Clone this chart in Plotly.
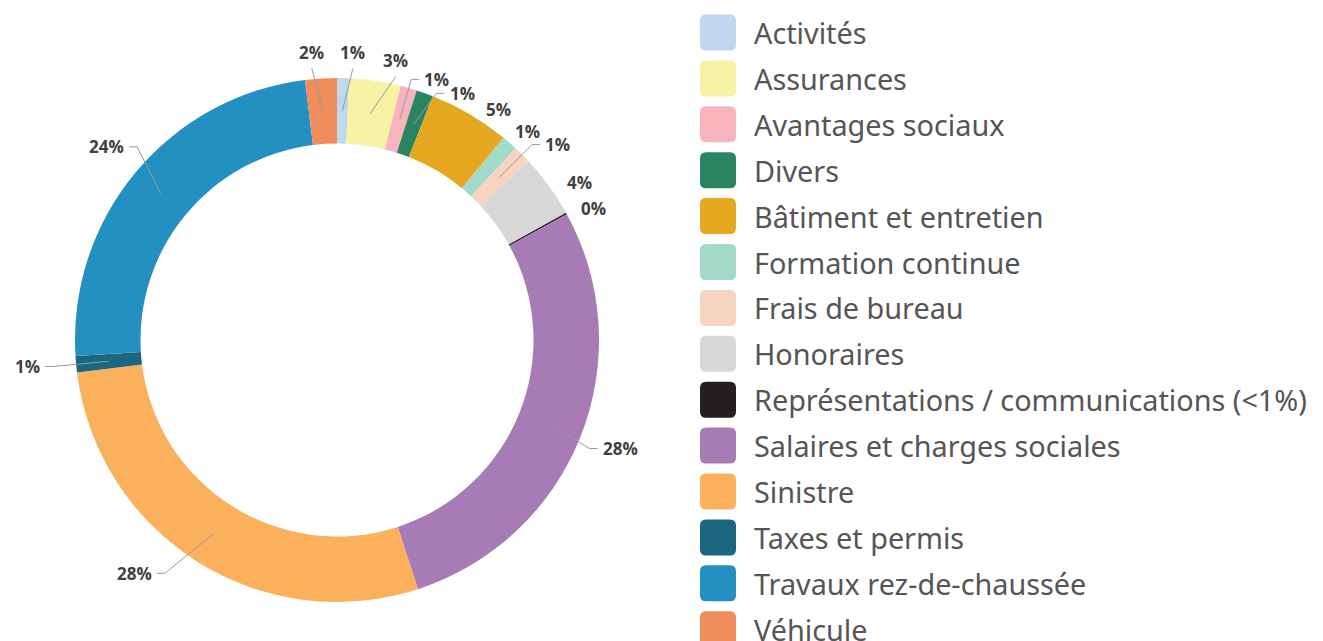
import math
import plotly.graph_objects as go

categories = ["Activités", "Assurances", "Avantages sociaux", "Divers",
              "Bâtiment et entretien", "Formation continue", "Frais de bureau",
              "Honoraires", "Représentations / communications (<1%)",
              "Salaires et charges sociales", "Sinistre", "Taxes et permis",
              "Travaux rez-de-chaussée", "Véhicule"]
values = [0.75, 3.16, 1.01, 1.04, 5.01, 0.97, 1.09, 3.90, 0.10, 27.97, 28.02, 1.00, 24.03, 1.95]
colors = ["#c0d8ef", "#f8f2a5", "#f8b4bc", "#2a8462", "#e6a821", "#a2d9c9", "#f6d4c0",
          "#d9d8d6", "#231f20", "#a67bb6", "#fbb05c", "#1b6680", "#2490c2", "#ef8d5d"]

# label layout tweaks (positions/styles only)
label_angle_adj = [2.0, 4.2, 0.0, 2.4, 0.0, -3.0, 0.0, 0.0, -0.8, 1.6, 4.0, 0.0, 4.3, -1.8]
label_radius = [272, 270, 271, 266, 268, 266, 276, 268, 266, 275, 290, 285, 278, 273]
show_leader = [True, True, True, True, False, False, True, False, False, True, True, True, True, True]

W, H = 1323, 641
OFF = 8  # page body margin: axis ranges map directly to page pixels
CX, CY, R = 337, 340, 262
HOLE = 0.75
R_MID = R * (1 + HOLE) / 2

fig = go.Figure()
fig.add_trace(go.Pie(
    labels=categories, values=values, sort=False, direction="clockwise", rotation=0,
    hole=HOLE, marker=dict(colors=colors, line=dict(width=0)),
    textinfo="none", hoverinfo="label+percent", showlegend=False,
    domain=dict(x=[(CX - OFF - R) / W, (CX - OFF + R) / W],
                y=[(H - (CY - OFF) - R) / H, (H - (CY - OFF) + R) / H]),
))

shapes = []
annotations = []
total = sum(values)
cum = 0.0
for i, v in enumerate(values):
    mid = (cum + v / 2) / total * 360.0
    cum += v
    pct = f"{round(v / total * 100)}%"
    a0 = math.radians(mid)
    sx, sy = CX + R_MID * math.sin(a0), CY - R_MID * math.cos(a0)
    ang = mid + label_angle_adj[i]
    a1 = math.radians(ang)
    ex, ey = CX + label_radius[i] * math.sin(a1), CY - label_radius[i] * math.cos(a1)
    signed = ((ang + 180) % 360) - 180
    font = dict(family="Open Sans", size=17, color="#404040", weight="bold")
    if abs(signed) < 14:
        if show_leader[i]:
            shapes.append(dict(type="path", xref="x", yref="y",
                               path=f"M{sx},{sy} L{ex},{ey}",
                               line=dict(color="#9a9a9a", width=1)))
        annotations.append(dict(x=ex, y=ey - 2, xref="x", yref="y", text=pct,
                                showarrow=False, xanchor="center", yanchor="bottom", font=font))
    else:
        side = 1 if signed > 0 else -1
        hx = ex + side * 8
        if show_leader[i]:
            shapes.append(dict(type="path", xref="x", yref="y",
                               path=f"M{sx},{sy} L{ex},{ey} L{hx},{ey}",
                               line=dict(color="#9a9a9a", width=1)))
        annotations.append(dict(x=hx + side * 3, y=ey, xref="x", yref="y", text=pct,
                                showarrow=False, xanchor="left" if side > 0 else "right",
                                yanchor="middle", font=font))

# custom legend
LX, LY0, LSTEP, SQ, RAD = 700, 32.5, 45.9, 36, 6
for i, (name, col) in enumerate(zip(categories, colors)):
    cy = LY0 + i * LSTEP
    x0, x1, y0, y1 = LX, LX + SQ, cy - SQ / 2, cy + SQ / 2
    path = (f"M{x0 + RAD},{y0} L{x1 - RAD},{y0} Q{x1},{y0} {x1},{y0 + RAD} "
            f"L{x1},{y1 - RAD} Q{x1},{y1} {x1 - RAD},{y1} L{x0 + RAD},{y1} "
            f"Q{x0},{y1} {x0},{y1 - RAD} L{x0},{y0 + RAD} Q{x0},{y0} {x0 + RAD},{y0} Z")
    shapes.append(dict(type="path", xref="x", yref="y", path=path,
                       fillcolor=col, line=dict(width=0), layer="above"))
    annotations.append(dict(x=752, y=cy, xref="x", yref="y", text=name, showarrow=False,
                            xanchor="left", yanchor="middle",
                            font=dict(family="Noto Sans", size=28.8, color="#555555")))

fig.update_layout(
    width=W, height=H, margin=dict(l=0, r=0, t=0, b=0),
    paper_bgcolor="white", plot_bgcolor="rgba(0,0,0,0)",
    xaxis=dict(range=[OFF, W + OFF], visible=False, fixedrange=True),
    yaxis=dict(range=[H + OFF, OFF], visible=False, fixedrange=True),
    shapes=shapes, annotations=annotations, showlegend=False,
)
fig.write_html("out.html")
